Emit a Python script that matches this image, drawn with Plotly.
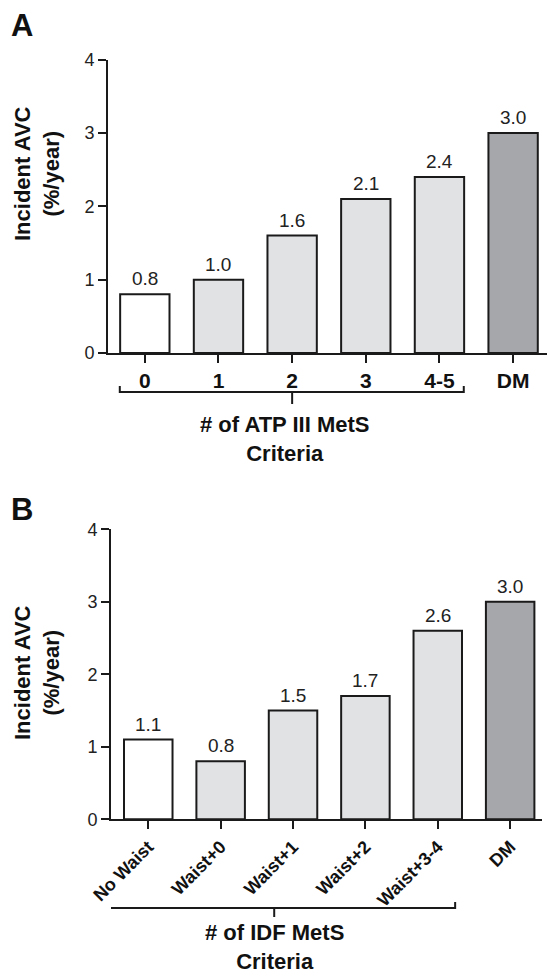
import plotly.graph_objects as go

# ---- data ----
cats_a = ["0", "1", "2", "3", "4-5", "DM"]
vals_a = [0.8, 1.0, 1.6, 2.1, 2.4, 3.0]
labels_a = ["0.8", "1.0", "1.6", "2.1", "2.4", "3.0"]

cats_b = ["No Waist", "Waist+0", "Waist+1", "Waist+2", "Waist+3-4", "DM"]
vals_b = [1.1, 0.8, 1.5, 1.7, 2.6, 3.0]
labels_b = ["1.1", "0.8", "1.5", "1.7", "2.6", "3.0"]

y_ticks = [0, 1, 2, 3, 4]

WHITE = "#ffffff"
LIGHT = "#e1e2e4"
DARK = "#a6a7aa"
colors_a = [WHITE, LIGHT, LIGHT, LIGHT, LIGHT, DARK]
colors_b = [WHITE, LIGHT, LIGHT, LIGHT, LIGHT, DARK]

W, H = 547, 974
FONT = "Liberation Sans, Arial, Helvetica, sans-serif"


def px_x(p):
    return p / W


def px_y(p):
    return 1 - p / H


BW = 0.67

fig = go.Figure()
fig.add_trace(go.Bar(x=cats_a, y=vals_a, marker=dict(color=colors_a, line=dict(color="#1a1a1a", width=2)),
                     width=BW, xaxis="x", yaxis="y", showlegend=False, hoverinfo="skip"))
fig.add_trace(go.Bar(x=cats_b, y=vals_b, marker=dict(color=colors_b, line=dict(color="#1a1a1a", width=2)),
                     width=BW, xaxis="x2", yaxis="y2", showlegend=False, hoverinfo="skip"))

axis_common = dict(showline=True, linecolor="#1a1a1a", linewidth=2, ticks="outside", ticklen=8,
                   tickwidth=2, tickcolor="#1a1a1a", showgrid=False, zeroline=False, automargin=False)

annotations = []
for c, v, t in zip(cats_a, vals_a, labels_a):
    annotations.append(dict(x=c, y=v, xref="x", yref="y", text=t, showarrow=False, yanchor="bottom",
                            yshift=3, font=dict(family=FONT, size=19, color="#222")))
for c, v, t in zip(cats_b, vals_b, labels_b):
    annotations.append(dict(x=c, y=v, xref="x2", yref="y2", text=t, showarrow=False, yanchor="bottom",
                            yshift=3, font=dict(family=FONT, size=19, color="#222")))

# panel letters
annotations.append(dict(x=px_x(9), y=px_y(6), xref="paper", yref="paper", text="<b>A</b>", showarrow=False,
                        xanchor="left", yanchor="top", font=dict(family=FONT, size=31, color="#111")))
annotations.append(dict(x=px_x(9), y=px_y(490), xref="paper", yref="paper", text="<b>B</b>", showarrow=False,
                        xanchor="left", yanchor="top", font=dict(family=FONT, size=31, color="#111")))

# y titles
for yc in [174, 673]:
    annotations.append(dict(x=px_x(37), y=px_y(yc), xref="paper", yref="paper",
                            text="<b>Incident AVC<br>(%/year)</b>", showarrow=False, textangle=-90,
                            xanchor="center", yanchor="middle", font=dict(family=FONT, size=22, color="#111")))

# x titles
annotations.append(dict(x=1.9, y=px_y(439), xref="x", yref="paper", text="<b># of ATP III MetS<br>Criteria</b>",
                        showarrow=False, xanchor="center", yanchor="middle",
                        font=dict(family=FONT, size=22, color="#111")))
annotations.append(dict(x=1.75, y=px_y(947), xref="x2", yref="paper", text="<b># of IDF MetS<br>Criteria</b>",
                        showarrow=False, xanchor="center", yanchor="middle",
                        font=dict(family=FONT, size=22, color="#111")))

# brackets
line = dict(color="#1a1a1a", width=2)
shapes = []


def bracket(xref, x0, x1, xm, yh, yup, ydown):
    shapes.append(dict(type="path", xref=xref, yref="paper", line=line,
                       path=f"M {x0},{px_y(yup)} L {x0},{px_y(yh)} L {x1},{px_y(yh)} L {x1},{px_y(yup)}"))
    shapes.append(dict(type="line", xref=xref, yref="paper", x0=xm, x1=xm, y0=px_y(yh), y1=px_y(ydown), line=line))


bracket("x", -0.34, 4.33, 2.0, 392, 386, 404)
bracket("x2", -0.68, 4.24, 1.74, 908, 902, 917)

fig.update_layout(
    template="none",
    width=W, height=H, margin=dict(l=0, r=0, t=0, b=0, pad=0), autosize=False,
    paper_bgcolor="white", plot_bgcolor="white",
    font=dict(family=FONT, color="#222"),
    xaxis=dict(**axis_common, type="category", categoryorder="array", categoryarray=cats_a,
               domain=[px_x(108), px_x(547)], range=[-0.5, 5.46], anchor="y",
               tickfont=dict(family=FONT, size=21, color="#111"),
               tickvals=cats_a, ticktext=[f"<b>{c}</b>" for c in cats_a]),
    yaxis=dict(**axis_common, domain=[px_y(353), px_y(59.5)], range=[0, 4], tickvals=y_ticks, anchor="x",
               tickfont=dict(family=FONT, size=18, color="#222")),
    xaxis2=dict(**axis_common, type="category", categoryorder="array", categoryarray=cats_b,
                domain=[px_x(111), px_x(542)], range=[-0.515, 5.44], anchor="y2",
                tickangle=-45, tickfont=dict(family=FONT, size=18, color="#111"),
                tickvals=cats_b, ticktext=[f"<b>{c}</b>" for c in cats_b]),
    yaxis2=dict(**axis_common, domain=[px_y(819.3), px_y(529.3)], range=[0, 4], tickvals=y_ticks, anchor="x2",
                tickfont=dict(family=FONT, size=18, color="#222")),
    annotations=annotations, shapes=shapes, bargap=0.33,
)

fig.write_html("out.html", config={"responsive": False, "displayModeBar": False},
               post_script="document.body.style.margin='0px';document.body.style.overflow='hidden';")
